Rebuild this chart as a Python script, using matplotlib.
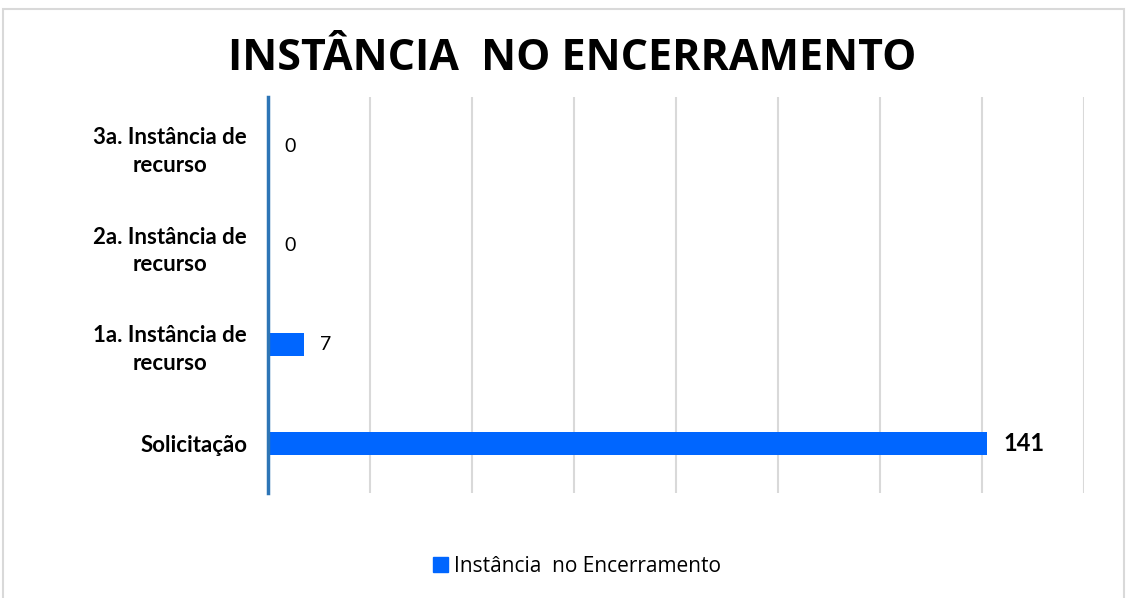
import matplotlib
matplotlib.use("Agg")
import matplotlib.pyplot as plt
from matplotlib.patches import Rectangle, Patch

categories = ["Solicitação", "1a. Instância de\nrecurso", "2a. Instância de\nrecurso", "3a. Instância de\nrecurso"]
values = [141, 7, 0, 0]
series_name = "Instância  no Encerramento"
title = "INSTÂNCIA  NO ENCERRAMENTO"

W, H = 1129, 598
fig = plt.figure(figsize=(W/100, H/100), dpi=100)
fig.patch.set_facecolor("white")
fig.add_artist(Rectangle((3/W, -0.01), (1124-3)/W, 1.01 - 9/H, transform=fig.transFigure,
                         fill=False, edgecolor="#d9d9d9", linewidth=1.5))

ax = fig.add_axes([268/W, 1-493/H, (1084-268)/W, (493-97)/H])
bar_color = "#0066ff"
y = list(range(len(categories)))
ax.barh(y, values, height=0.23, color=bar_color, zorder=3)
ax.set_xlim(0, 160)
ax.set_ylim(-0.5, len(categories)-0.5)
ax.set_xticks(range(0, 161, 20))
ax.set_xticklabels([])
ax.tick_params(axis="x", length=0)
ax.tick_params(axis="y", length=0, pad=15)
ax.grid(axis="x", color="#d9d9d9", linewidth=1.5, zorder=0)
for s in ["top", "right", "bottom"]:
    ax.spines[s].set_visible(False)
ax.spines["left"].set_color("#2e75b6")
ax.spines["left"].set_linewidth(2.5)
ax.spines["left"].set_zorder(4)
ax.set_yticks(y)
ax.set_yticklabels(categories, fontsize=16, fontweight="bold", family="Lato", ha="right",
                   multialignment="center", linespacing=1.4)

for yi, v in zip(y, values):
    bold = v == max(values)
    ax.annotate(str(v), (v, yi), xytext=(12, 0), textcoords="offset points",
                va="center", ha="left", fontsize=17 if bold else 14,
                fontweight="bold" if bold else "normal", family="Lato")

fig.text(572/W, 1-59/H, title, ha="center", va="center", fontsize=31, fontweight="bold",
         family="Open Sans")

leg = fig.legend(handles=[Patch(color=bar_color)], labels=[series_name], loc="center",
                 bbox_to_anchor=(577/W, 1-566/H), frameon=False,
                 handlelength=0.7, handleheight=0.7, handletextpad=0.3,
                 prop={"family": "Open Sans", "size": 15})

fig.savefig("out.png", dpi=100)
